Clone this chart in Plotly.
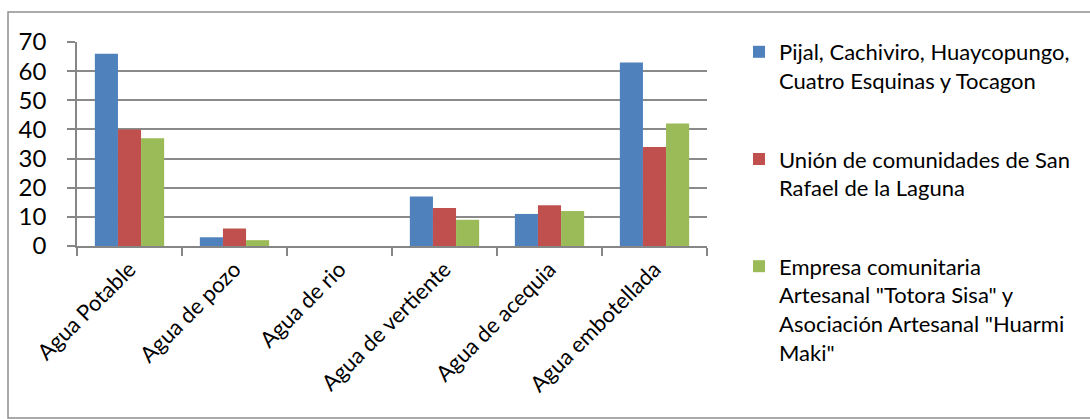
import plotly.graph_objects as go

# Water source categories
categories = [
    "Agua Potable",
    "Agua de pozo",
    "Agua de rio",
    "Agua de vertiente",
    "Agua de acequia",
    "Agua embotellada",
]

# Series names (legend entries)
series_names = [
    "Pijal, Cachiviro, Huaycopungo,<br>Cuatro Esquinas y Tocagon",
    "Unión de comunidades de San<br>Rafael de la Laguna",
    "Empresa comunitaria<br>Artesanal \"Totora Sisa\" y<br>Asociación Artesanal \"Huarmi<br>Maki\"",
]

# Values per series
pijal_values = [66, 3, 0, 17, 11, 63]
union_values = [40, 6, 0, 13, 14, 34]
empresa_values = [37, 2, 0, 9, 12, 42]

y_ticks = [0, 10, 20, 30, 40, 50, 60, 70]

colors = ["#4F81BD", "#C0504D", "#9BBB59"]

W, H = 1090, 419
ML, MR, MT, MB = 77, 383, 42, 173
PW, PH = W - ML - MR, H - MT - MB

FONT = "Lato"

fig = go.Figure()
for i, (name, vals) in enumerate(zip(series_names, [pijal_values, union_values, empresa_values])):
    fig.add_trace(go.Bar(
        x=categories,
        y=vals,
        name=name,
        legendgroup=f"g{i}",
        marker=dict(color=colors[i], line=dict(width=0)),
    ))


def px_to_paper_x(px):
    return (px - ML) / PW


def px_to_paper_y(py):
    return (H - MB - py) / PH


# Outer chart frame
fig.add_shape(
    type="rect", xref="paper", yref="paper",
    x0=px_to_paper_x(8), x1=px_to_paper_x(1100),
    y0=px_to_paper_y(418), y1=px_to_paper_y(12),
    line=dict(color="#8E8E8E", width=1.5),
    fillcolor="rgba(0,0,0,0)",
    layer="below",
)

fig.update_layout(
    width=W, height=H,
    margin=dict(l=ML, r=MR, t=MT, b=MB, pad=0, autoexpand=False),
    paper_bgcolor="white",
    plot_bgcolor="white",
    barmode="group",
    bargap=0.34,
    bargroupgap=0,
    font=dict(family=FONT, color="#000000"),
    legend=dict(
        x=px_to_paper_x(781 - 42), xanchor="left",
        y=px_to_paper_y(31), yanchor="top",
        font=dict(family=FONT, size=22, color="#000000"),
        tracegroupgap=47,
        bgcolor="rgba(0,0,0,0)",
        traceorder="grouped",
        valign="top",
        maxheight=400,
    ),
    showlegend=True,
)

fig.update_xaxes(
    type="category",
    tickangle=-45,
    tickfont=dict(family=FONT, size=22, color="#000000"),
    showline=True, linecolor="#868686", linewidth=1.5,
    ticks="outside", ticklen=8, tickcolor="#868686", tickwidth=1.5,
    tickson="boundaries",
    showgrid=False,
    zeroline=False,
)

fig.update_yaxes(
    range=[0, 70],
    tickvals=y_ticks,
    tickfont=dict(family=FONT, size=24, color="#000000"),
    showline=True, linecolor="#868686", linewidth=1.5,
    ticks="outside", ticklen=8, tickcolor="#868686", tickwidth=1.5,
    ticklabelstandoff=16,
    showgrid=True, gridcolor="#8A8A8A", gridwidth=1.5,
    zeroline=False,
)

fig.write_html("out.html")
